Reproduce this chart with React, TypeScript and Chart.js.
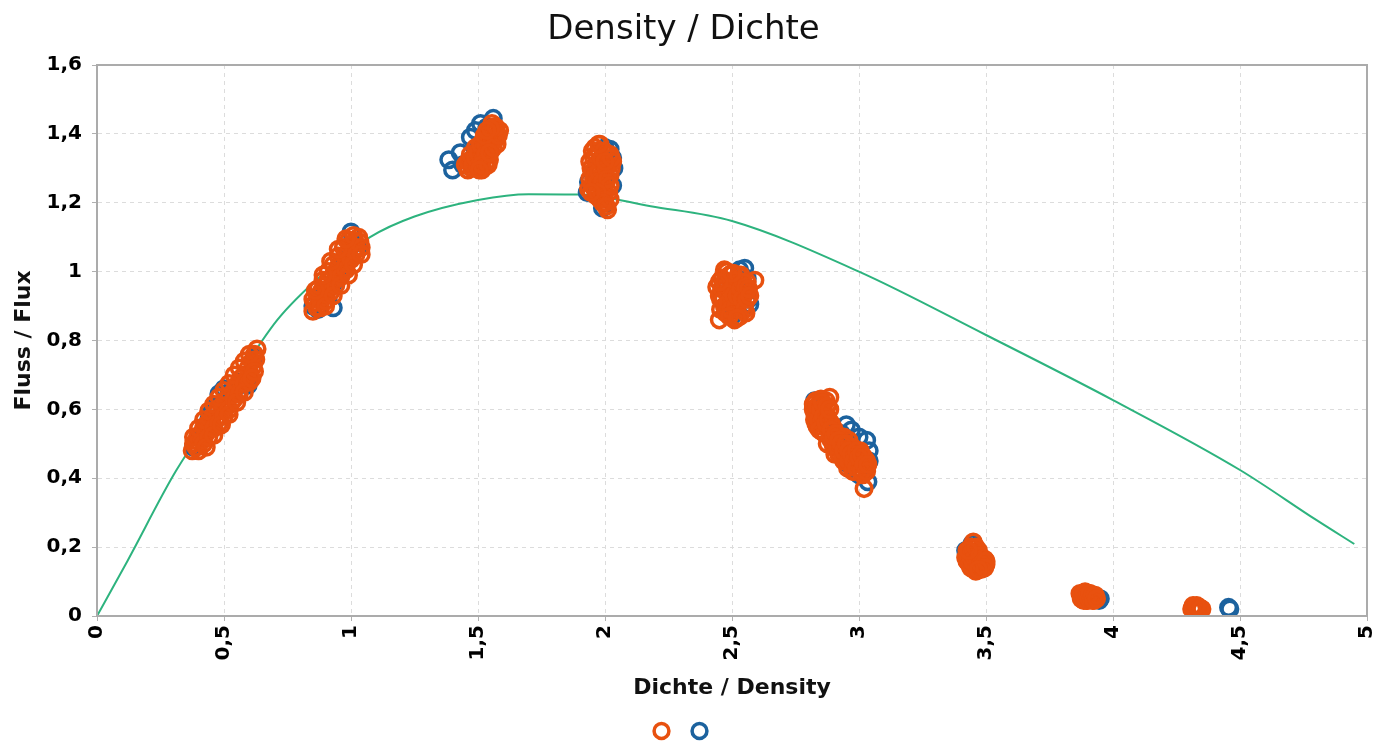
import React, { useEffect, useRef } from 'react';
import { Chart, registerables } from 'chart.js';

Chart.register(...registerables);

const chartTitle = 'Density / Dichte';
const xAxisTitle = 'Dichte / Density';
const yAxisTitle = 'Fluss / Flux';

const xTickLabels = ['0', '0,5', '1', '1,5', '2', '2,5', '3', '3,5', '4', '4,5', '5'];
const yTickLabels = ['0', '0,2', '0,4', '0,6', '0,8', '1', '1,2', '1,4', '1,6'];

// Orange series (density, flux)
const orangePoints: [number, number][] = [
  // ~0.5
  [0.375, 0.48], [0.38, 0.5], [0.39, 0.49], [0.395, 0.52], [0.4, 0.505], [0.41, 0.53], [0.415, 0.51],
  [0.42, 0.545], [0.43, 0.53], [0.435, 0.56], [0.44, 0.545], [0.45, 0.57], [0.455, 0.555], [0.46, 0.585],
  [0.47, 0.57], [0.475, 0.6], [0.48, 0.58], [0.49, 0.61], [0.5, 0.595], [0.505, 0.625], [0.515, 0.61],
  [0.52, 0.64], [0.53, 0.62], [0.54, 0.655], [0.55, 0.67], [0.555, 0.65], [0.565, 0.69], [0.57, 0.675],
  [0.58, 0.7], [0.59, 0.69], [0.595, 0.72], [0.6, 0.705], [0.61, 0.74], [0.615, 0.725], [0.62, 0.76],
  [0.625, 0.745], [0.63, 0.775],
  [0.38, 0.52], [0.4, 0.545], [0.42, 0.57], [0.44, 0.595], [0.46, 0.615], [0.48, 0.635], [0.5, 0.655],
  [0.52, 0.675], [0.54, 0.7], [0.56, 0.72], [0.58, 0.74], [0.6, 0.76],
  [0.4, 0.48], [0.42, 0.5], [0.44, 0.52], [0.46, 0.545], [0.48, 0.56], [0.5, 0.58], [0.52, 0.6],
  [0.54, 0.63], [0.56, 0.645], [0.58, 0.675], [0.6, 0.68], [0.62, 0.71],
  [0.43, 0.49], [0.46, 0.525], [0.49, 0.555], [0.52, 0.585], [0.55, 0.62], [0.58, 0.65], [0.61, 0.69],
  // ~0.95
  [0.85, 0.885], [0.86, 0.91], [0.865, 0.895], [0.87, 0.93], [0.88, 0.915], [0.885, 0.945], [0.89, 0.925],
  [0.9, 0.96], [0.905, 0.94], [0.91, 0.975], [0.92, 0.955], [0.925, 0.985], [0.93, 0.97], [0.94, 1.0],
  [0.945, 0.98], [0.95, 1.015], [0.96, 0.995], [0.965, 1.03], [0.97, 1.01], [0.975, 1.045], [0.98, 1.025],
  [0.99, 1.06], [0.995, 1.04], [1.0, 1.075], [1.01, 1.055], [1.015, 1.09], [1.02, 1.07], [1.03, 1.1],
  [1.035, 1.085],
  [0.85, 0.92], [0.87, 0.95], [0.89, 0.975], [0.91, 1.0], [0.93, 1.02], [0.95, 1.045], [0.97, 1.07],
  [0.99, 1.09], [1.01, 1.105],
  [0.88, 0.895], [0.9, 0.915], [0.92, 0.94], [0.94, 0.96], [0.96, 0.985], [0.98, 1.005], [1.0, 1.035],
  [1.02, 1.05], [1.04, 1.07],
  [0.9, 0.9], [0.93, 0.93], [0.96, 0.96], [0.99, 0.99], [1.01, 1.02], [1.04, 1.05],
  [0.86, 0.945], [0.89, 0.99], [0.92, 1.03], [0.95, 1.065], [0.98, 1.095],
  // ~1.5
  [1.45, 1.31], [1.46, 1.295], [1.47, 1.32], [1.475, 1.3], [1.48, 1.33], [1.49, 1.305], [1.495, 1.345],
  [1.5, 1.32], [1.505, 1.36], [1.51, 1.33], [1.515, 1.295], [1.52, 1.35], [1.525, 1.375], [1.53, 1.31],
  [1.535, 1.39], [1.54, 1.34], [1.545, 1.36], [1.55, 1.4], [1.555, 1.375], [1.56, 1.42], [1.565, 1.39],
  [1.57, 1.41], [1.575, 1.37], [1.585, 1.41], [1.52, 1.38], [1.49, 1.36], [1.5, 1.3], [1.545, 1.325],
  [1.555, 1.43],
  [1.46, 1.32], [1.47, 1.34], [1.48, 1.31], [1.49, 1.33], [1.5, 1.345], [1.51, 1.315], [1.51, 1.37],
  [1.52, 1.325], [1.53, 1.37], [1.53, 1.34], [1.54, 1.385], [1.54, 1.31], [1.55, 1.35], [1.56, 1.4],
  [1.56, 1.36], [1.57, 1.385], [1.57, 1.42], [1.58, 1.395], [1.55, 1.415], [1.525, 1.395], [1.535, 1.41],
  [1.515, 1.31], [1.505, 1.295], [1.545, 1.345],
  // ~2.0
  [1.935, 1.24], [1.94, 1.27], [1.945, 1.3], [1.95, 1.25], [1.955, 1.33], [1.96, 1.28], [1.965, 1.22],
  [1.97, 1.31], [1.975, 1.35], [1.98, 1.27], [1.98, 1.37], [1.985, 1.24], [1.99, 1.32], [1.995, 1.29],
  [2.0, 1.2], [2.0, 1.345], [2.005, 1.26], [2.01, 1.31], [2.015, 1.23], [2.02, 1.34], [2.02, 1.28],
  [2.025, 1.3], [2.01, 1.18], [1.995, 1.21], [1.95, 1.35], [1.96, 1.36], [2.03, 1.32],
  [1.94, 1.32], [1.95, 1.29], [1.955, 1.27], [1.96, 1.24], [1.965, 1.34], [1.97, 1.26], [1.975, 1.29],
  [1.98, 1.21], [1.985, 1.33], [1.99, 1.26], [1.995, 1.35], [2.0, 1.23], [2.005, 1.3], [2.01, 1.27],
  [2.015, 1.34], [2.02, 1.21], [2.02, 1.25], [2.025, 1.33], [1.97, 1.23], [1.99, 1.2], [2.0, 1.32],
  [1.945, 1.23], [2.005, 1.19], [1.975, 1.37],
  // ~2.5
  [2.44, 0.955], [2.45, 0.86], [2.455, 0.92], [2.46, 0.98], [2.47, 0.9], [2.475, 0.95], [2.48, 1.0],
  [2.485, 0.88], [2.49, 0.93], [2.495, 0.97], [2.5, 0.91], [2.505, 0.995], [2.51, 0.86], [2.515, 0.94],
  [2.52, 0.89], [2.525, 0.965], [2.53, 0.92], [2.535, 0.99], [2.54, 0.95], [2.545, 0.9], [2.55, 0.935],
  [2.56, 0.97], [2.59, 0.975], [2.555, 0.88], [2.47, 1.005],
  [2.45, 0.93], [2.455, 0.89], [2.46, 0.95], [2.465, 0.92], [2.47, 0.97], [2.475, 0.88], [2.48, 0.94],
  [2.485, 0.91], [2.49, 0.99], [2.495, 0.89], [2.5, 0.95], [2.505, 0.93], [2.51, 0.975], [2.515, 0.9],
  [2.52, 0.93], [2.525, 0.99], [2.53, 0.87], [2.535, 0.95], [2.54, 0.92], [2.545, 0.97], [2.55, 0.89],
  [2.555, 0.955], [2.56, 0.92], [2.565, 0.95], [2.57, 0.93], [2.49, 0.87], [2.52, 0.865], [2.5, 0.995],
  [2.45, 0.97],
  // ~2.9
  [2.82, 0.6], [2.825, 0.57], [2.83, 0.625], [2.835, 0.55], [2.84, 0.59], [2.845, 0.615], [2.85, 0.57],
  [2.855, 0.535], [2.86, 0.6], [2.865, 0.555], [2.87, 0.625], [2.875, 0.58], [2.88, 0.54], [2.885, 0.635],
  [2.89, 0.51], [2.83, 0.58], [2.85, 0.63], [2.89, 0.56], [2.9, 0.49], [2.905, 0.53], [2.91, 0.5],
  [2.92, 0.47], [2.925, 0.52], [2.93, 0.48], [2.94, 0.45], [2.945, 0.5], [2.95, 0.47], [2.955, 0.43],
  [2.96, 0.51], [2.965, 0.46], [2.97, 0.44], [2.975, 0.49], [2.98, 0.42], [2.985, 0.47], [2.99, 0.45],
  [3.0, 0.43], [3.005, 0.48], [3.01, 0.44], [3.015, 0.41], [3.02, 0.46], [3.025, 0.43], [3.03, 0.45],
  [3.02, 0.37], [2.94, 0.52], [2.9, 0.545], [2.875, 0.5],
  [2.82, 0.615], [2.825, 0.59], [2.83, 0.56], [2.835, 0.61], [2.84, 0.57], [2.845, 0.54], [2.85, 0.6],
  [2.855, 0.62], [2.86, 0.58], [2.865, 0.53], [2.87, 0.56], [2.875, 0.61], [2.88, 0.57], [2.885, 0.52],
  [2.885, 0.6], [2.89, 0.54], [2.895, 0.51], [2.9, 0.52], [2.905, 0.47], [2.91, 0.53], [2.915, 0.49],
  [2.92, 0.51], [2.93, 0.5], [2.935, 0.46], [2.94, 0.48], [2.95, 0.5], [2.96, 0.45], [2.96, 0.48],
  [2.97, 0.47], [2.975, 0.42], [2.98, 0.45], [2.99, 0.48], [2.99, 0.43], [3.0, 0.46], [3.01, 0.42],
  [3.01, 0.47], [3.02, 0.44], [3.03, 0.42], [3.035, 0.44],
  // ~3.45
  [3.42, 0.17], [3.425, 0.19], [3.43, 0.155], [3.435, 0.18], [3.44, 0.2], [3.445, 0.165], [3.45, 0.215],
  [3.455, 0.145], [3.46, 0.18], [3.465, 0.16], [3.47, 0.19], [3.475, 0.14], [3.48, 0.17], [3.485, 0.155],
  [3.49, 0.145], [3.495, 0.165], [3.5, 0.15], [3.44, 0.14], [3.46, 0.13], [3.48, 0.135],
  [3.425, 0.16], [3.43, 0.175], [3.435, 0.15], [3.44, 0.17], [3.445, 0.185], [3.45, 0.155], [3.45, 0.195],
  [3.455, 0.17], [3.46, 0.2], [3.465, 0.14], [3.47, 0.16], [3.475, 0.175], [3.48, 0.15], [3.485, 0.165],
  [3.49, 0.16], [3.495, 0.14], [3.5, 0.16], [3.47, 0.135], [3.43, 0.19],
  // ~3.9
  [3.87, 0.065], [3.875, 0.05], [3.88, 0.06], [3.885, 0.045], [3.89, 0.07], [3.895, 0.055], [3.9, 0.045],
  [3.905, 0.065], [3.91, 0.05], [3.915, 0.06], [3.92, 0.045], [3.925, 0.055], [3.93, 0.05],
  [3.875, 0.06], [3.88, 0.05], [3.885, 0.065], [3.89, 0.05], [3.895, 0.045], [3.9, 0.06], [3.905, 0.05],
  [3.91, 0.065], [3.915, 0.05], [3.92, 0.06], [3.925, 0.045], [3.93, 0.06], [3.935, 0.05],
  // ~4.33
  [4.31, 0.02], [4.32, 0.025], [4.33, 0.02], [4.34, 0.025], [4.35, 0.02], [4.315, 0.03], [4.345, 0.015],
  [4.315, 0.02], [4.325, 0.02], [4.335, 0.025], [4.345, 0.02], [4.33, 0.03],
];

// Blue series (density, flux)
const bluePoints: [number, number][] = [
  [0.38, 0.49], [0.4, 0.52], [0.42, 0.54], [0.44, 0.57], [0.45, 0.59], [0.47, 0.61], [0.48, 0.645],
  [0.5, 0.66], [0.52, 0.65], [0.55, 0.665], [0.57, 0.68], [0.595, 0.67], [0.6, 0.7], [0.62, 0.75],
  [0.85, 0.9], [0.87, 0.89], [0.88, 0.925], [0.9, 0.94], [0.93, 0.895], [0.93, 0.965], [0.95, 0.99],
  [0.97, 1.02], [0.99, 1.05], [1.0, 1.115], [1.01, 1.08], [1.03, 1.07],
  [1.385, 1.325], [1.4, 1.295], [1.43, 1.345], [1.44, 1.31], [1.47, 1.39], [1.49, 1.41], [1.51, 1.43],
  [1.535, 1.42], [1.56, 1.445], [1.5, 1.36], [1.53, 1.35], [1.48, 1.33],
  [1.93, 1.23], [1.935, 1.26], [1.99, 1.185], [2.0, 1.36], [2.02, 1.355], [2.03, 1.33], [2.035, 1.3],
  [2.03, 1.25], [1.97, 1.3], [2.0, 1.28],
  [2.53, 1.005], [2.55, 1.01], [2.56, 0.98], [2.565, 0.92], [2.57, 0.905], [2.5, 0.87], [2.48, 0.97],
  [2.52, 0.95],
  [2.825, 0.625], [2.84, 0.6], [2.86, 0.56], [2.93, 0.53], [2.95, 0.555], [2.97, 0.54], [3.0, 0.52],
  [3.03, 0.51], [3.04, 0.48], [3.04, 0.45], [3.035, 0.39], [2.96, 0.44], [3.0, 0.41], [2.9, 0.5],
  [3.42, 0.19], [3.445, 0.21], [3.46, 0.145], [3.49, 0.14], [3.47, 0.175],
  [3.9, 0.06], [3.93, 0.055], [3.94, 0.05], [3.945, 0.045], [3.95, 0.05],
  [4.335, 0.02], [4.455, 0.025], [4.46, 0.02],
];

// Model curve
const curveDensity = [0, 0.12, 0.31, 0.5, 0.71, 0.9, 1.075, 1.25, 1.5, 1.7, 1.9, 2.18, 2.5, 3.0, 3.5, 4.0, 4.5, 4.8, 4.95];
const curveFlux = [0, 0.16, 0.42, 0.63, 0.86, 1.0, 1.1, 1.16, 1.208, 1.225, 1.224, 1.19, 1.147, 1.0, 0.816, 0.627, 0.424, 0.279, 0.209];

const ORANGE = '#E8510F';
const BLUE = '#1C629E';
const GREEN = '#2DB37E';

export default function App() {
  const ref = useRef<HTMLCanvasElement>(null);

  useEffect(() => {
    document.body.style.margin = '0';
    Chart.defaults.font.family = "'DejaVu Sans', sans-serif";
    const canvas = ref.current;
    if (!canvas) return;

    const framePlugin = {
      id: 'frame',
      afterDatasetsDraw(chart: any) {
        const { ctx, chartArea: a } = chart;
        ctx.save();
        ctx.setLineDash([]);
        ctx.strokeStyle = '#ababab';
        ctx.lineWidth = 2;
        ctx.strokeRect(a.left, a.top, a.right - a.left, a.bottom - a.top);
        ctx.restore();
      },
    };

    const pointDataset = (label: string, pts: [number, number][], color: string) => ({
      label,
      data: pts.map(([x, y]) => ({ x, y })),
      borderColor: color,
      backgroundColor: 'rgba(0,0,0,0)',
      borderWidth: 3.5,
      pointRadius: 7.8,
      pointHoverRadius: 7.8,
      pointStyle: 'circle',
      showLine: false,
      clip: 0,
    });

    const chart = new Chart(canvas, {
      type: 'scatter',
      data: {
        datasets: [
          pointDataset('', orangePoints, ORANGE),
          pointDataset('', bluePoints, BLUE),
          {
            label: 'curve',
            data: curveDensity.map((x, i) => ({ x, y: curveFlux[i] })),
            borderColor: GREEN,
            backgroundColor: GREEN,
            borderWidth: 2,
            pointRadius: 0,
            showLine: true,
            fill: false,
            cubicInterpolationMode: 'monotone',
          } as any,
        ],
      },
      options: {
        responsive: false,
        animation: false,
        events: [],
        layout: { padding: { left: 0, right: 25, top: 0, bottom: -5 } },
        plugins: {
          title: {
            display: true,
            text: chartTitle,
            color: '#111',
            font: { size: 34, weight: 'normal', lineHeight: 1.2 },
            padding: { top: 10, bottom: 14.2 },
          },
          legend: {
            position: 'bottom',
            labels: {
              usePointStyle: true,
              boxWidth: 12,
              boxHeight: 10.5,
              padding: 20,
              font: { size: 12 },
              filter: (item: any) => item.datasetIndex < 2,
            },
          },
          tooltip: { enabled: false },
        },
        scales: {
          x: {
            type: 'linear',
            min: 0,
            max: 5,
            afterFit: (s: any) => { s.height = 89; s.paddingRight = 0; s.paddingLeft = 0; },
            ticks: {
              stepSize: 0.5,
              autoSkip: false,
              minRotation: 90,
              maxRotation: 90,
              padding: 4,
              color: '#000',
              font: { size: 20, weight: 'bold' },
              callback: (_v: any, i: number) => xTickLabels[i],
            },
            grid: { color: '#dcdcdc', lineWidth: 1, tickLength: 5, tickColor: '#b0b0b0' },
            border: { display: true, color: '#ababab', width: 2, dash: [4, 4] },
            title: {
              display: true,
              text: xAxisTitle,
              color: '#111',
              font: { size: 22, weight: 'bold', lineHeight: 1.2 },
              padding: { top: 0, bottom: 4 },
            },
          },
          y: {
            type: 'linear',
            min: 0,
            max: 1.6,
            afterFit: (s: any) => { s.width = 97; },
            ticks: {
              stepSize: 0.2,
              padding: 10,
              color: '#000',
              font: { size: 20, weight: 'bold' },
              callback: (_v: any, i: number) => yTickLabels[i],
            },
            grid: { color: '#dcdcdc', lineWidth: 1, tickLength: 5, tickColor: '#b0b0b0' },
            border: { display: true, color: '#ababab', width: 2, dash: [4, 4] },
            title: {
              display: true,
              text: yAxisTitle,
              color: '#111',
              font: { size: 22, weight: 'bold', lineHeight: 1.2 },
              padding: { top: 11, bottom: 0 },
            },
          },
        },
      } as any,
      plugins: [framePlugin],
    });

    return () => chart.destroy();
  }, []);

  return (
    <div style={{ width: 1392, height: 742 }}>
      <canvas ref={ref} width={1392} height={742} style={{ display: 'block' }} />
    </div>
  );
}
